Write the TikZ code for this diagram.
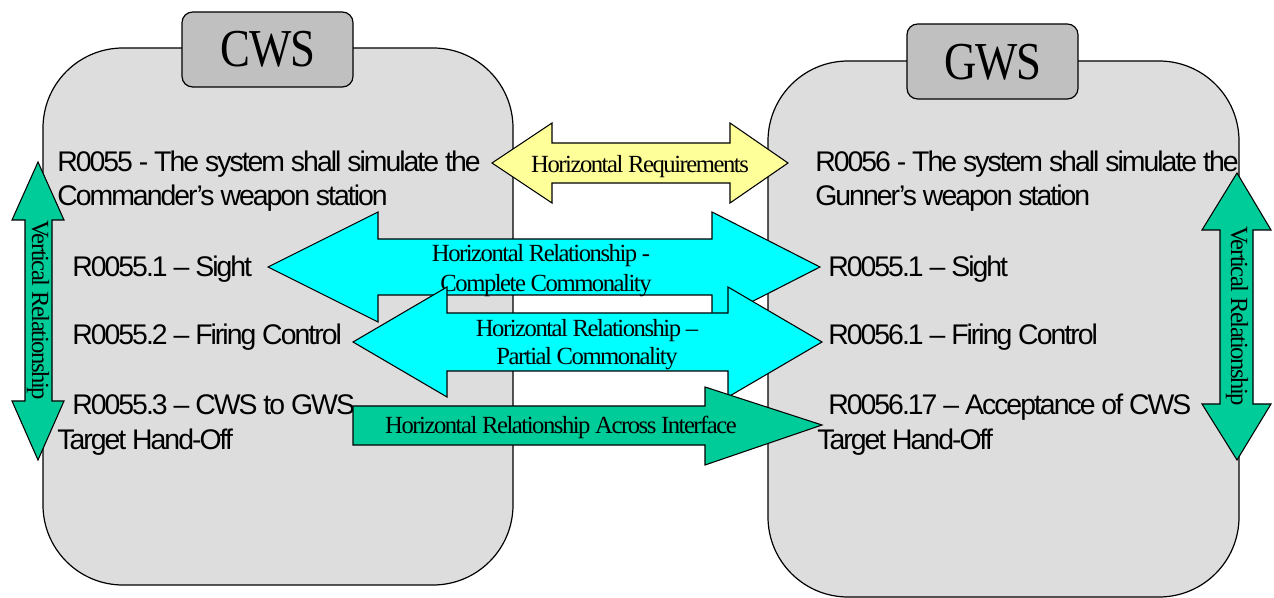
\documentclass[tikz,border=0pt]{standalone}
\usepackage{fontspec}
\setmainfont{Liberation Serif}
\newfontfamily\reqfont[LetterSpace=-7]{Liberation Sans}
\newfontfamily\lblfont[LetterSpace=-6]{Liberation Serif}
\newfontfamily\ttlfont[FakeStretch=0.84,LetterSpace=-2]{Liberation Serif}
\definecolor{boxgray}{HTML}{DDDDDD}
\definecolor{tabgray}{HTML}{C0C0C0}
\definecolor{reqyellow}{HTML}{FFFF99}
\definecolor{relcyan}{HTML}{00FFFF}
\definecolor{relgreen}{HTML}{00CC99}
\begin{document}
\begin{tikzpicture}[x=0.75pt,y=-0.75pt,
  bigbox/.style={draw=black,line width=0.9pt,fill=boxgray,rounded corners=60pt,inner sep=0pt},
  tabbox/.style={draw=black,line width=0.9pt,fill=tabgray,rounded corners=8pt,inner sep=0pt,minimum width=128.25pt,minimum height=56.25pt},
  blockarrow/.style={draw=black,line width=0.8pt},
  req/.style={anchor=base west,inner sep=0pt,font=\reqfont\fontsize{21.3}{24}\selectfont},
  lbl/.style={anchor=base,inner sep=0pt,font=\lblfont\fontsize{18.5}{21}\selectfont},
  ttl/.style={anchor=base,inner sep=0pt,font=\ttlfont\fontsize{40}{44}\selectfont}]
\useasboundingbox (0,0) rectangle (1274,598);
% big boxes
\node[bigbox,minimum width=352.5pt,minimum height=402.75pt] (cwsbox) at (278,316.5) {};
\node[bigbox,minimum width=353.25pt,minimum height=402pt] (gwsbox) at (1003.5,329) {};
% tabs
\node[tabbox] (cwstab) at (267.5,49.5) {};
\node[tabbox] (gwstab) at (992.5,61.5) {};
\node[ttl] (cwst) at (268,67) {CWS};
\node[ttl] (gwst) at (993,80) {GWS};
% requirement texts CWS
\node[req] (c1a) at (57,172) {R0055 - The system shall simulate the};
\node[req] (c1b) at (57,206) {Commander’s weapon station};
\node[req] (c2) at (72,277) {R0055.1 – Sight};
\node[req] (c3) at (72,345) {R0055.2 – Firing Control};
\node[req] (c4a) at (72,415) {R0055.3 – CWS to GWS};
\node[req] (c4b) at (57,450) {Target Hand-Off};
% requirement texts GWS
\node[req] (g1a) at (815,172) {R0056 - The system shall simulate the};
\node[req] (g1b) at (815,206) {Gunner’s weapon station};
\node[req] (g2) at (828,277) {R0055.1 – Sight};
\node[req] (g3) at (828,345) {R0056.1 – Firing Control};
\node[req] (g4a) at (828,415) {R0056.17 – Acceptance of CWS};
\node[req] (g4b) at (817,450) {Target Hand-Off};
% yellow double arrow
\draw[blockarrow,fill=reqyellow] (492,163) -- (552,123) -- (552,143) -- (730,143) -- (730,123) -- (788,163) -- (730,203) -- (730,183) -- (552,183) -- (552,203) -- cycle;
\node[lbl] (l1) at (640,173) {Horizontal Requirements};
% cyan double arrow 1
\draw[blockarrow,fill=relcyan] (268,267) -- (378,212) -- (378,239) -- (712,239) -- (712,212) -- (820,267) -- (712,322) -- (712,295) -- (378,295) -- (378,322) -- cycle;
\node[lbl] (l2a) at (541,262) {Horizontal Relationship -};
\node[lbl] (l2b) at (546,292) {Complete Commonality};
% cyan double arrow 2
\draw[blockarrow,fill=relcyan] (353,342) -- (447,287) -- (447,313) -- (728,313) -- (728,287) -- (822,342) -- (728,397) -- (728,371) -- (447,371) -- (447,397) -- cycle;
\node[lbl] (l3a) at (587,337) {Horizontal Relationship –};
\node[lbl] (l3b) at (587,365) {Partial Commonality};
% green single arrow
\draw[blockarrow,fill=relgreen] (353,406) -- (705,406) -- (705,387) -- (822,425) -- (705,465) -- (705,445) -- (353,445) -- cycle;
\node[lbl] (l4) at (561,433) {Horizontal Relationship Across Interface};
% vertical arrows
\draw[blockarrow,fill=relgreen] (38,162) -- (64,220) -- (52,220) -- (52,401) -- (64,401) -- (38,460) -- (12,401) -- (25,401) -- (25,220) -- (12,220) -- cycle;
\node[lbl,anchor=center,rotate=-90] (v1) at (38,310) {Vertical Relationship};
\draw[blockarrow,fill=relgreen] (1237,173) -- (1271,230) -- (1253,230) -- (1253,404) -- (1271,404) -- (1237,460) -- (1202,404) -- (1220,404) -- (1220,230) -- (1202,230) -- cycle;
\node[lbl,anchor=center,rotate=-90] (v2) at (1237,316) {Vertical Relationship};
\end{tikzpicture}
\end{document}
